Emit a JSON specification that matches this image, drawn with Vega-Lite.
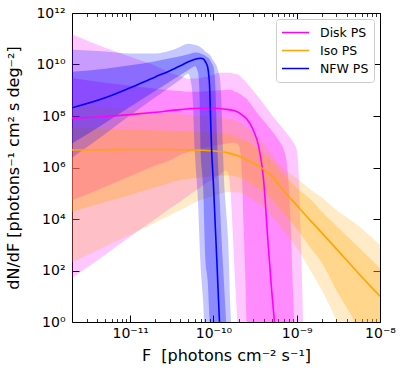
{
"$schema": "https://vega.github.io/schema/vega-lite/v6.json",
"width": 308, "height": 309,
"autosize": {"type": "none"},
"padding": {"left": 72, "top": 13, "right": 27, "bottom": 52},
"background": "white",
"config": {
 "view": {"stroke": "black", "strokeWidth": 1},
 "font": "DejaVu Sans",
 "axis": {"domain": false, "grid": false, "labelFont": "DejaVu Sans", "titleFont": "DejaVu Sans", "labelFontSize": 14, "titleFontSize": 16, "titleFontWeight": "normal", "labelColor": "black", "titleColor": "black", "tickColor": "black", "tickWidth": 1, "labelFlush": false, "labelOverlap": false}
},
"datasets": {
 "bands": [
  {"series":"Disk PS","band":"outer","F":2e-12,"lo":51,"hi":1.5e11},
  {"series":"Disk PS","band":"outer","F":5e-12,"lo":410,"hi":4.5e10},
  {"series":"Disk PS","band":"outer","F":1e-11,"lo":2100,"hi":2.0e10},
  {"series":"Disk PS","band":"outer","F":2e-11,"lo":1.0e4,"hi":8.9e9},
  {"series":"Disk PS","band":"outer","F":3e-11,"lo":2.6e4,"hi":4.8e9},
  {"series":"Disk PS","band":"outer","F":4e-11,"lo":4.8e4,"hi":3.6e9},
  {"series":"Disk PS","band":"outer","F":5e-11,"lo":8.2e4,"hi":2.8e9},
  {"series":"Disk PS","band":"outer","F":7e-11,"lo":1.7e5,"hi":3.0e9},
  {"series":"Disk PS","band":"outer","F":8e-11,"lo":2.4e5,"hi":3.3e9},
  {"series":"Disk PS","band":"outer","F":1e-10,"lo":3.6e5,"hi":4.0e9},
  {"series":"Disk PS","band":"outer","F":1.2e-10,"lo":5.4e5,"hi":4.8e9},
  {"series":"Disk PS","band":"outer","F":1.4e-10,"lo":7.7e5,"hi":4.8e9},
  {"series":"Disk PS","band":"outer","F":1.5e-10,"lo":6.2e5,"hi":4.8e9},
  {"series":"Disk PS","band":"outer","F":1.6e-10,"lo":1.35e5,"hi":4.8e9},
  {"series":"Disk PS","band":"outer","F":1.7e-10,"lo":3800,"hi":4.6e9},
  {"series":"Disk PS","band":"outer","F":1.8e-10,"lo":67,"hi":4.4e9},
  {"series":"Disk PS","band":"outer","F":1.9e-10,"lo":2.9,"hi":4.2e9},
  {"series":"Disk PS","band":"outer","F":2e-10,"lo":0.1,"hi":4.0e9},
  {"series":"Disk PS","band":"outer","F":2.2e-10,"lo":0.1,"hi":3.0e9},
  {"series":"Disk PS","band":"outer","F":2.5e-10,"lo":0.1,"hi":1.95e9},
  {"series":"Disk PS","band":"outer","F":3e-10,"lo":0.1,"hi":9.5e8},
  {"series":"Disk PS","band":"outer","F":3.5e-10,"lo":0.1,"hi":5.1e8},
  {"series":"Disk PS","band":"outer","F":4e-10,"lo":0.1,"hi":3.0e8},
  {"series":"Disk PS","band":"outer","F":4.5e-10,"lo":0.1,"hi":1.74e8},
  {"series":"Disk PS","band":"outer","F":5e-10,"lo":0.1,"hi":1.1e8},
  {"series":"Disk PS","band":"outer","F":6e-10,"lo":0.1,"hi":5.4e7},
  {"series":"Disk PS","band":"outer","F":7e-10,"lo":0.1,"hi":2.9e7},
  {"series":"Disk PS","band":"outer","F":8e-10,"lo":0.1,"hi":1.7e7},
  {"series":"Disk PS","band":"outer","F":9e-10,"lo":0.1,"hi":9.9e6},
  {"series":"Disk PS","band":"outer","F":1e-9,"lo":0.1,"hi":4.8e6},
  {"series":"Disk PS","band":"outer","F":1.05e-9,"lo":0.1,"hi":8.1e5},
  {"series":"Disk PS","band":"outer","F":1.1e-9,"lo":0.1,"hi":9200},
  {"series":"Disk PS","band":"outer","F":1.15e-9,"lo":0.1,"hi":100},
  {"series":"Disk PS","band":"outer","F":1.2e-9,"lo":0.1,"hi":0.3},
  {"series":"Disk PS","band":"inner","F":2e-12,"lo":5.3e4,"hi":3.0e9},
  {"series":"Disk PS","band":"inner","F":5e-12,"lo":1.8e5,"hi":1.95e9},
  {"series":"Disk PS","band":"inner","F":1e-11,"lo":4.7e5,"hi":1.5e9},
  {"series":"Disk PS","band":"inner","F":2e-11,"lo":1.2e6,"hi":1.14e9},
  {"series":"Disk PS","band":"inner","F":3e-11,"lo":1.9e6,"hi":1.0e9},
  {"series":"Disk PS","band":"inner","F":4e-11,"lo":3.1e6,"hi":9.3e8},
  {"series":"Disk PS","band":"inner","F":5e-11,"lo":4.0e6,"hi":8.7e8},
  {"series":"Disk PS","band":"inner","F":7e-11,"lo":5.3e6,"hi":8.8e8},
  {"series":"Disk PS","band":"inner","F":1e-10,"lo":7.0e6,"hi":9.5e8},
  {"series":"Disk PS","band":"inner","F":1.2e-10,"lo":7.6e6,"hi":1.0e9},
  {"series":"Disk PS","band":"inner","F":1.4e-10,"lo":8.3e6,"hi":1.03e9},
  {"series":"Disk PS","band":"inner","F":1.6e-10,"lo":8.9e6,"hi":1.04e9},
  {"series":"Disk PS","band":"inner","F":1.8e-10,"lo":9.1e6,"hi":9.0e8},
  {"series":"Disk PS","band":"inner","F":1.9e-10,"lo":8.5e6,"hi":8.4e8},
  {"series":"Disk PS","band":"inner","F":2e-10,"lo":7.6e6,"hi":7.9e8},
  {"series":"Disk PS","band":"inner","F":2.1e-10,"lo":4.0e6,"hi":7.0e8},
  {"series":"Disk PS","band":"inner","F":2.2e-10,"lo":5.2e5,"hi":6.3e8},
  {"series":"Disk PS","band":"inner","F":2.3e-10,"lo":5900,"hi":5.6e8},
  {"series":"Disk PS","band":"inner","F":2.4e-10,"lo":100,"hi":5.1e8},
  {"series":"Disk PS","band":"inner","F":2.5e-10,"lo":1,"hi":4.7e8},
  {"series":"Disk PS","band":"inner","F":2.6e-10,"lo":0.1,"hi":4.0e8},
  {"series":"Disk PS","band":"inner","F":3e-10,"lo":0.1,"hi":2.1e8},
  {"series":"Disk PS","band":"inner","F":3.5e-10,"lo":0.1,"hi":1.1e8},
  {"series":"Disk PS","band":"inner","F":4e-10,"lo":0.1,"hi":6.5e7},
  {"series":"Disk PS","band":"inner","F":4.5e-10,"lo":0.1,"hi":4.1e7},
  {"series":"Disk PS","band":"inner","F":5e-10,"lo":0.1,"hi":2.7e7},
  {"series":"Disk PS","band":"inner","F":6e-10,"lo":0.1,"hi":1.2e7},
  {"series":"Disk PS","band":"inner","F":7e-10,"lo":0.1,"hi":4.8e6},
  {"series":"Disk PS","band":"inner","F":7.5e-10,"lo":0.1,"hi":2.0e6},
  {"series":"Disk PS","band":"inner","F":8e-10,"lo":0.1,"hi":2.1e5},
  {"series":"Disk PS","band":"inner","F":8.5e-10,"lo":0.1,"hi":3800},
  {"series":"Disk PS","band":"inner","F":9e-10,"lo":0.1,"hi":17},
  {"series":"Disk PS","band":"inner","F":9.5e-10,"lo":0.1,"hi":0.3},
  {"series":"Iso PS","band":"outer","F":2e-12,"lo":210,"hi":2.7e8},
  {"series":"Iso PS","band":"outer","F":5e-12,"lo":860,"hi":2.2e8},
  {"series":"Iso PS","band":"outer","F":1e-11,"lo":2500,"hi":1.74e8},
  {"series":"Iso PS","band":"outer","F":2e-11,"lo":7300,"hi":1.39e8},
  {"series":"Iso PS","band":"outer","F":4e-11,"lo":2.25e4,"hi":1.2e8},
  {"series":"Iso PS","band":"outer","F":7e-11,"lo":5.5e4,"hi":1.0e8},
  {"series":"Iso PS","band":"outer","F":1e-10,"lo":7.9e4,"hi":9.3e7},
  {"series":"Iso PS","band":"outer","F":1.5e-10,"lo":1.13e5,"hi":7.8e7},
  {"series":"Iso PS","band":"outer","F":2e-10,"lo":1.08e5,"hi":5.9e7},
  {"series":"Iso PS","band":"outer","F":3e-10,"lo":5.5e4,"hi":2.4e7},
  {"series":"Iso PS","band":"outer","F":4e-10,"lo":2.8e4,"hi":8.3e6},
  {"series":"Iso PS","band":"outer","F":5e-10,"lo":1.3e4,"hi":3.1e6},
  {"series":"Iso PS","band":"outer","F":7e-10,"lo":3400,"hi":9.2e5},
  {"series":"Iso PS","band":"outer","F":1e-9,"lo":750,"hi":3.8e5},
  {"series":"Iso PS","band":"outer","F":1.5e-9,"lo":87,"hi":1.3e5},
  {"series":"Iso PS","band":"outer","F":2e-9,"lo":17,"hi":6.9e4},
  {"series":"Iso PS","band":"outer","F":3e-9,"lo":1.2,"hi":2.25e4},
  {"series":"Iso PS","band":"outer","F":5e-9,"lo":0.05,"hi":7000},
  {"series":"Iso PS","band":"outer","F":1e-8,"lo":0.01,"hi":980},
  {"series":"Iso PS","band":"inner","F":2e-12,"lo":1.9e4,"hi":3.5e7},
  {"series":"Iso PS","band":"inner","F":5e-12,"lo":4.6e4,"hi":3.2e7},
  {"series":"Iso PS","band":"inner","F":1e-11,"lo":8.6e4,"hi":3.0e7},
  {"series":"Iso PS","band":"inner","F":2e-11,"lo":1.7e5,"hi":2.8e7},
  {"series":"Iso PS","band":"inner","F":4e-11,"lo":3.3e5,"hi":2.6e7},
  {"series":"Iso PS","band":"inner","F":7e-11,"lo":4.1e5,"hi":2.45e7},
  {"series":"Iso PS","band":"inner","F":1e-10,"lo":4.7e5,"hi":2.3e7},
  {"series":"Iso PS","band":"inner","F":1.5e-10,"lo":4.9e5,"hi":2.0e7},
  {"series":"Iso PS","band":"inner","F":2e-10,"lo":4.3e5,"hi":1.4e7},
  {"series":"Iso PS","band":"inner","F":3e-10,"lo":2.1e5,"hi":7.6e6},
  {"series":"Iso PS","band":"inner","F":4e-10,"lo":1.13e5,"hi":3.4e6},
  {"series":"Iso PS","band":"inner","F":5e-10,"lo":5.8e4,"hi":1.8e6},
  {"series":"Iso PS","band":"inner","F":7e-10,"lo":1.7e4,"hi":5.2e5},
  {"series":"Iso PS","band":"inner","F":1e-9,"lo":4100,"hi":1.6e5},
  {"series":"Iso PS","band":"inner","F":1.5e-9,"lo":690,"hi":5.5e4},
  {"series":"Iso PS","band":"inner","F":2e-9,"lo":200,"hi":1.9e4},
  {"series":"Iso PS","band":"inner","F":3e-9,"lo":17,"hi":5400},
  {"series":"Iso PS","band":"inner","F":5e-9,"lo":1,"hi":1100},
  {"series":"Iso PS","band":"inner","F":1e-8,"lo":0.013,"hi":125},
  {"series":"NFW PS","band":"outer","F":2e-12,"lo":2.4e6,"hi":3.7e10},
  {"series":"NFW PS","band":"outer","F":5e-12,"lo":2.0e7,"hi":3.2e10},
  {"series":"NFW PS","band":"outer","F":1e-11,"lo":1.06e8,"hi":2.7e10},
  {"series":"NFW PS","band":"outer","F":2e-11,"lo":5.3e8,"hi":2.7e10},
  {"series":"NFW PS","band":"outer","F":3e-11,"lo":1.35e9,"hi":3.4e10},
  {"series":"NFW PS","band":"outer","F":4e-11,"lo":2.6e9,"hi":4.9e10},
  {"series":"NFW PS","band":"outer","F":5e-11,"lo":4.4e9,"hi":6.4e10},
  {"series":"NFW PS","band":"outer","F":5.3e-11,"lo":2.55e9,"hi":6.3e10},
  {"series":"NFW PS","band":"outer","F":5.6e-11,"lo":6.7e8,"hi":6.1e10},
  {"series":"NFW PS","band":"outer","F":6e-11,"lo":3.1e6,"hi":5.8e10},
  {"series":"NFW PS","band":"outer","F":6.5e-11,"lo":5.5e4,"hi":5.3e10},
  {"series":"NFW PS","band":"outer","F":7e-11,"lo":160,"hi":4.7e10},
  {"series":"NFW PS","band":"outer","F":7.5e-11,"lo":7.1,"hi":3.9e10},
  {"series":"NFW PS","band":"outer","F":8e-11,"lo":0.1,"hi":3.1e10},
  {"series":"NFW PS","band":"outer","F":9e-11,"lo":0.1,"hi":2.4e10},
  {"series":"NFW PS","band":"outer","F":1e-10,"lo":0.1,"hi":1.4e10},
  {"series":"NFW PS","band":"outer","F":1.1e-10,"lo":0.1,"hi":8.2e9},
  {"series":"NFW PS","band":"outer","F":1.15e-10,"lo":0.1,"hi":5.0e9},
  {"series":"NFW PS","band":"outer","F":1.2e-10,"lo":0.1,"hi":2.6e9},
  {"series":"NFW PS","band":"outer","F":1.25e-10,"lo":0.1,"hi":2.7e8},
  {"series":"NFW PS","band":"outer","F":1.3e-10,"lo":0.1,"hi":4.8e6},
  {"series":"NFW PS","band":"outer","F":1.35e-10,"lo":0.1,"hi":2.1e5},
  {"series":"NFW PS","band":"outer","F":1.4e-10,"lo":0.1,"hi":3.5e4},
  {"series":"NFW PS","band":"outer","F":1.5e-10,"lo":0.1,"hi":1500},
  {"series":"NFW PS","band":"outer","F":1.6e-10,"lo":0.1,"hi":2.9},
  {"series":"NFW PS","band":"outer","F":1.65e-10,"lo":0.1,"hi":0.3},
  {"series":"NFW PS","band":"inner","F":2e-12,"lo":8.5e6,"hi":5.2e9},
  {"series":"NFW PS","band":"inner","F":5e-12,"lo":5.4e7,"hi":6.8e9},
  {"series":"NFW PS","band":"inner","F":1e-11,"lo":2.3e8,"hi":9.3e9},
  {"series":"NFW PS","band":"inner","F":2e-11,"lo":9.5e8,"hi":1.34e10},
  {"series":"NFW PS","band":"inner","F":3e-11,"lo":2.2e9,"hi":1.75e10},
  {"series":"NFW PS","band":"inner","F":4e-11,"lo":3.9e9,"hi":2.1e10},
  {"series":"NFW PS","band":"inner","F":5e-11,"lo":6.1e9,"hi":2.5e10},
  {"series":"NFW PS","band":"inner","F":6e-11,"lo":8.6e9,"hi":2.9e10},
  {"series":"NFW PS","band":"inner","F":6.5e-11,"lo":5.2e9,"hi":2.85e10},
  {"series":"NFW PS","band":"inner","F":6.8e-11,"lo":6.7e8,"hi":2.8e10},
  {"series":"NFW PS","band":"inner","F":7e-11,"lo":4.8e6,"hi":2.7e10},
  {"series":"NFW PS","band":"inner","F":7.5e-11,"lo":2.1e5,"hi":2.45e10},
  {"series":"NFW PS","band":"inner","F":8e-11,"lo":260,"hi":2.2e10},
  {"series":"NFW PS","band":"inner","F":8.5e-11,"lo":43,"hi":1.9e10},
  {"series":"NFW PS","band":"inner","F":9e-11,"lo":1,"hi":1.6e10},
  {"series":"NFW PS","band":"inner","F":9.5e-11,"lo":0.1,"hi":1.15e10},
  {"series":"NFW PS","band":"inner","F":1e-10,"lo":0.1,"hi":8.2e9},
  {"series":"NFW PS","band":"inner","F":1.05e-10,"lo":0.1,"hi":1.6e9},
  {"series":"NFW PS","band":"inner","F":1.08e-10,"lo":0.1,"hi":1.1e8},
  {"series":"NFW PS","band":"inner","F":1.1e-10,"lo":0.1,"hi":1.85e7},
  {"series":"NFW PS","band":"inner","F":1.15e-10,"lo":0.1,"hi":5.3e5},
  {"series":"NFW PS","band":"inner","F":1.2e-10,"lo":0.1,"hi":3.1e4},
  {"series":"NFW PS","band":"inner","F":1.25e-10,"lo":0.1,"hi":1800},
  {"series":"NFW PS","band":"inner","F":1.3e-10,"lo":0.1,"hi":180},
  {"series":"NFW PS","band":"inner","F":1.35e-10,"lo":0.1,"hi":19},
  {"series":"NFW PS","band":"inner","F":1.4e-10,"lo":0.1,"hi":2.2},
  {"series":"NFW PS","band":"inner","F":1.45e-10,"lo":0.1,"hi":0.28}
 ],
 "lines": [
  {"series":"Disk PS","F":2e-12,"y":8.1e7},
  {"series":"Disk PS","F":5e-12,"y":9.5e7},
  {"series":"Disk PS","F":1e-11,"y":1.13e8},
  {"series":"Disk PS","F":2e-11,"y":1.4e8},
  {"series":"Disk PS","F":4e-11,"y":1.77e8},
  {"series":"Disk PS","F":7e-11,"y":1.99e8},
  {"series":"Disk PS","F":1e-10,"y":2.0e8},
  {"series":"Disk PS","F":1.4e-10,"y":1.84e8},
  {"series":"Disk PS","F":1.8e-10,"y":1.59e8},
  {"series":"Disk PS","F":2e-10,"y":1.39e8},
  {"series":"Disk PS","F":2.2e-10,"y":1.1e8},
  {"series":"Disk PS","F":2.5e-10,"y":7.8e7},
  {"series":"Disk PS","F":3e-10,"y":2.9e7},
  {"series":"Disk PS","F":3.5e-10,"y":6.3e6},
  {"series":"Disk PS","F":4e-10,"y":3.3e5},
  {"series":"Disk PS","F":4.5e-10,"y":1500},
  {"series":"Disk PS","F":5e-10,"y":17},
  {"series":"Disk PS","F":5.5e-10,"y":0.5},
  {"series":"Iso PS","F":2e-12,"y":4.8e6},
  {"series":"Iso PS","F":5e-12,"y":4.9e6},
  {"series":"Iso PS","F":1e-11,"y":5.0e6},
  {"series":"Iso PS","F":2e-11,"y":5.0e6},
  {"series":"Iso PS","F":4e-11,"y":4.9e6},
  {"series":"Iso PS","F":7e-11,"y":4.7e6},
  {"series":"Iso PS","F":1e-10,"y":4.4e6},
  {"series":"Iso PS","F":1.5e-10,"y":3.7e6},
  {"series":"Iso PS","F":2e-10,"y":2.8e6},
  {"series":"Iso PS","F":3e-10,"y":1.5e6},
  {"series":"Iso PS","F":4e-10,"y":8.5e5},
  {"series":"Iso PS","F":5e-10,"y":4.7e5},
  {"series":"Iso PS","F":7e-10,"y":1.23e5},
  {"series":"Iso PS","F":1e-9,"y":3.4e4},
  {"series":"Iso PS","F":1.5e-9,"y":7900},
  {"series":"Iso PS","F":2e-9,"y":2900},
  {"series":"Iso PS","F":3e-9,"y":690},
  {"series":"Iso PS","F":5e-9,"y":110},
  {"series":"Iso PS","F":1e-8,"y":10},
  {"series":"NFW PS","F":2e-12,"y":2.08e8},
  {"series":"NFW PS","F":5e-12,"y":5.1e8},
  {"series":"NFW PS","F":1e-11,"y":1.25e9},
  {"series":"NFW PS","F":2e-11,"y":3.3e9},
  {"series":"NFW PS","F":3e-11,"y":5.7e9},
  {"series":"NFW PS","F":4e-11,"y":8.9e9},
  {"series":"NFW PS","F":5e-11,"y":1.28e10},
  {"series":"NFW PS","F":6e-11,"y":1.6e10},
  {"series":"NFW PS","F":7e-11,"y":1.75e10},
  {"series":"NFW PS","F":7.5e-11,"y":1.67e10},
  {"series":"NFW PS","F":8e-11,"y":1.28e10},
  {"series":"NFW PS","F":8.5e-11,"y":8.2e9},
  {"series":"NFW PS","F":8.8e-11,"y":3.6e9},
  {"series":"NFW PS","F":9e-11,"y":1.25e9},
  {"series":"NFW PS","F":9.2e-11,"y":1.1e8},
  {"series":"NFW PS","F":9.5e-11,"y":4.8e6},
  {"series":"NFW PS","F":1e-10,"y":2.1e5},
  {"series":"NFW PS","F":1.05e-10,"y":5900},
  {"series":"NFW PS","F":1.1e-10,"y":210},
  {"series":"NFW PS","F":1.15e-10,"y":7.1},
  {"series":"NFW PS","F":1.2e-10,"y":0.32}
 ]
},
"layer": [
 {
  "data": {"name": "bands"},
  "transform": [{"filter": "datum.series === 'Disk PS'"}],
  "mark": {"type": "area", "clip": true, "interpolate": "monotone", "color": "#ff00ff"},
  "encoding": {
   "x": {"field": "F", "type": "quantitative", "scale": {"type": "log", "domain": [2e-12, 1e-8], "nice": false},
         "axis": {"orient": "bottom", "values": [1e-11, 1e-10, 1e-9, 1e-8], "tickSize": -7, "labelPadding": 11,
                  "labelExpr": "'10' + ['⁻⁸','⁻⁹','⁻¹⁰','⁻¹¹'][-8 - round(log(datum.value)/LN10)]",
                  "title": "F\u00a0\u00a0[photons cm⁻² s⁻¹]", "titlePadding": 7}},
   "y": {"field": "hi", "type": "quantitative", "scale": {"type": "log", "domain": [1, 1e12], "nice": false},
         "axis": {"orient": "left", "values": [1, 100, 1e4, 1e6, 1e8, 1e10, 1e12], "tickSize": -7, "labelPadding": 14,
                  "labelExpr": "'10' + ['⁰','¹','²','³','⁴','⁵','⁶','⁷','⁸','⁹','¹⁰','¹¹','¹²'][round(log(datum.value)/LN10)]",
                  "title": "dN/dF [photons⁻¹ cm² s deg⁻²]", "titlePadding": 14}},
   "y2": {"field": "lo"},
   "opacity": {"field": "band", "type": "nominal", "scale": {"domain": ["outer", "inner"], "range": [0.22, 0.3]}, "legend": null}
  }
 },
 {
  "data": {"name": "bands"},
  "transform": [{"filter": "datum.series === 'Iso PS'"}],
  "mark": {"type": "area", "clip": true, "interpolate": "monotone", "color": "#ffa500"},
  "encoding": {
   "x": {"field": "F", "type": "quantitative", "scale": {"type": "log", "domain": [2e-12, 1e-8], "nice": false},
         "axis": {"orient": "bottom", "values": [3e-12,4e-12,5e-12,6e-12,7e-12,8e-12,9e-12,2e-11,3e-11,4e-11,5e-11,6e-11,7e-11,8e-11,9e-11,2e-10,3e-10,4e-10,5e-10,6e-10,7e-10,8e-10,9e-10,2e-9,3e-9,4e-9,5e-9,6e-9,7e-9,8e-9,9e-9], "tickSize": -3.5, "tickWidth": 0.8, "labels": false, "title": null}},
   "y": {"field": "hi", "type": "quantitative", "scale": {"type": "log", "domain": [1, 1e12], "nice": false},
         "axis": {"orient": "right", "values": [1, 100, 1e4, 1e6, 1e8, 1e10, 1e12], "tickSize": -7, "labels": false, "title": null}},
   "y2": {"field": "lo"},
   "opacity": {"field": "band", "type": "nominal", "scale": {"domain": ["outer", "inner"], "range": [0.22, 0.3]}, "legend": null}
  }
 },
 {
  "data": {"name": "bands"},
  "transform": [{"filter": "datum.series === 'NFW PS'"}],
  "mark": {"type": "area", "clip": true, "interpolate": "monotone", "color": "#0000ff"},
  "encoding": {
   "x": {"field": "F", "type": "quantitative", "scale": {"type": "log", "domain": [2e-12, 1e-8], "nice": false},
         "axis": {"orient": "top", "values": [1e-11, 1e-10, 1e-9, 1e-8], "tickSize": -7, "labels": false, "title": null}},
   "y": {"field": "hi", "type": "quantitative", "scale": {"type": "log", "domain": [1, 1e12], "nice": false}, "axis": null},
   "y2": {"field": "lo"},
   "opacity": {"field": "band", "type": "nominal", "scale": {"domain": ["outer", "inner"], "range": [0.22, 0.3]}, "legend": null}
  }
 },
 {
  "data": {"name": "lines"},
  "mark": {"type": "line", "clip": true, "interpolate": "monotone", "strokeWidth": 1.6},
  "encoding": {
   "x": {"field": "F", "type": "quantitative", "scale": {"type": "log", "domain": [2e-12, 1e-8], "nice": false},
         "axis": {"orient": "top", "values": [3e-12,4e-12,5e-12,6e-12,7e-12,8e-12,9e-12,2e-11,3e-11,4e-11,5e-11,6e-11,7e-11,8e-11,9e-11,2e-10,3e-10,4e-10,5e-10,6e-10,7e-10,8e-10,9e-10,2e-9,3e-9,4e-9,5e-9,6e-9,7e-9,8e-9,9e-9], "tickSize": -3.5, "tickWidth": 0.8, "labels": false, "title": null}},
   "y": {"field": "y", "type": "quantitative", "scale": {"type": "log", "domain": [1, 1e12], "nice": false}, "axis": null},
   "color": {"field": "series", "type": "nominal", "scale": {"domain": ["Disk PS", "Iso PS", "NFW PS"], "range": ["#ff00ff", "#ffa500", "#0000ff"]},
             "legend": {"title": null, "orient": "top-right", "offset": 6, "symbolType": "stroke", "symbolSize": 729, "symbolStrokeWidth": 1.6, "labelFontSize": 12.5, "labelFont": "DejaVu Sans", "labelColor": "black", "padding": 5, "strokeColor": "#cccccc", "fillColor": "white", "cornerRadius": 3, "labelOffset": 10, "clipHeight": 17, "rowPadding": 1}}
  }
 }
],
"resolve": {"axis": {"x": "independent", "y": "independent"}}
}
